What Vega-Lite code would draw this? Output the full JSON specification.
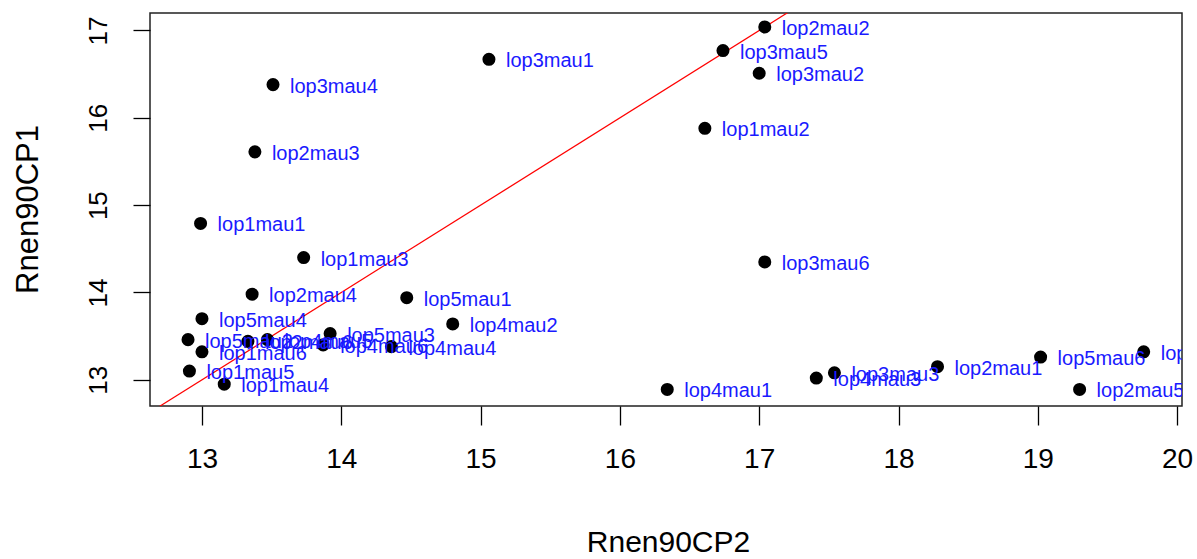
{
  "$schema": "https://vega.github.io/schema/vega-lite/v6.json",
  "width": 1032,
  "height": 393,
  "autosize": {"type": "none"},
  "padding": {"left": 150, "top": 13, "right": 15, "bottom": 153},
  "background": "white",
  "config": {
    "view": {"stroke": "#222222", "strokeWidth": 1.5},
    "axis": {"grid": false, "domain": false, "tickColor": "black", "tickWidth": 1.3, "labelColor": "black", "titleColor": "black", "titleFontWeight": "normal"}
  },
  "datasets": {
    "pts": [
      {"CP2": 17.04, "CP1": 17.04, "name": "lop2mau2"},
      {"CP2": 16.74, "CP1": 16.77, "name": "lop3mau5"},
      {"CP2": 17.00, "CP1": 16.51, "name": "lop3mau2"},
      {"CP2": 15.06, "CP1": 16.67, "name": "lop3mau1"},
      {"CP2": 13.51, "CP1": 16.38, "name": "lop3mau4"},
      {"CP2": 13.38, "CP1": 15.61, "name": "lop2mau3"},
      {"CP2": 16.61, "CP1": 15.88, "name": "lop1mau2"},
      {"CP2": 12.99, "CP1": 14.79, "name": "lop1mau1"},
      {"CP2": 13.73, "CP1": 14.40, "name": "lop1mau3"},
      {"CP2": 17.04, "CP1": 14.35, "name": "lop3mau6"},
      {"CP2": 13.36, "CP1": 13.98, "name": "lop2mau4"},
      {"CP2": 14.47, "CP1": 13.94, "name": "lop5mau1"},
      {"CP2": 14.80, "CP1": 13.64, "name": "lop4mau2"},
      {"CP2": 13.00, "CP1": 13.70, "name": "lop5mau4"},
      {"CP2": 12.90, "CP1": 13.46, "name": "lop5mau2"},
      {"CP2": 13.00, "CP1": 13.32, "name": "lop1mau6"},
      {"CP2": 12.91, "CP1": 13.10, "name": "lop1mau5"},
      {"CP2": 13.16, "CP1": 12.95, "name": "lop1mau4"},
      {"CP2": 13.33, "CP1": 13.44, "name": "lop2mau6"},
      {"CP2": 13.47, "CP1": 13.46, "name": "lop4mau5"},
      {"CP2": 13.92, "CP1": 13.53, "name": "lop5mau3"},
      {"CP2": 13.87, "CP1": 13.40, "name": "lop4mau6"},
      {"CP2": 14.36, "CP1": 13.38, "name": "lop4mau4"},
      {"CP2": 16.34, "CP1": 12.89, "name": "lop4mau1"},
      {"CP2": 17.41, "CP1": 13.02, "name": "lop4mau3"},
      {"CP2": 17.54, "CP1": 13.08, "name": "lop3mau3"},
      {"CP2": 18.28, "CP1": 13.15, "name": "lop2mau1"},
      {"CP2": 19.02, "CP1": 13.26, "name": "lop5mau6"},
      {"CP2": 19.76, "CP1": 13.32, "name": "lop5mau5"},
      {"CP2": 19.30, "CP1": 12.89, "name": "lop2mau5"}
    ],
    "ref": [
      {"CP2": 12.5, "CP1": 12.5},
      {"CP2": 17.5, "CP1": 17.5}
    ]
  },
  "layer": [
    {
      "data": {"name": "ref"},
      "mark": {"type": "line", "color": "red", "strokeWidth": 1.2, "clip": true},
      "encoding": {
        "x": {"field": "CP2", "type": "quantitative", "scale": {"domain": [12.627, 20.035], "nice": false, "zero": false}},
        "y": {"field": "CP1", "type": "quantitative", "scale": {"domain": [12.70, 17.20], "nice": false, "zero": false}}
      }
    },
    {
      "data": {"name": "pts"},
      "mark": {"type": "point", "filled": true, "color": "black", "opacity": 1, "size": 170, "clip": true},
      "encoding": {
        "x": {"field": "CP2", "type": "quantitative", "scale": {"domain": [12.627, 20.035], "nice": false, "zero": false},
          "axis": {"title": "Rnen90CP2", "values": [13, 14, 15, 16, 17, 18, 19, 20], "format": "d", "tickSize": 19, "labelFont": "Liberation Sans", "labelFontSize": 28, "labelPadding": 20, "labelFlush": false, "labelOverlap": false, "titleFont": "Liberation Sans", "titleFontSize": 30, "titleX": 518, "titleY": 136, "titleBaseline": "middle"}},
        "y": {"field": "CP1", "type": "quantitative", "scale": {"domain": [12.70, 17.20], "nice": false, "zero": false},
          "axis": {"title": "Rnen90CP1", "values": [13, 14, 15, 16, 17], "format": "d", "tickSize": 17, "labelFont": "Liberation Sans", "labelFontSize": 26, "labelAngle": -90, "labelAlign": "center", "labelBaseline": "bottom", "labelPadding": 22, "labelFlush": false, "labelOverlap": false, "titleFont": "Liberation Sans", "titleFontSize": 31, "titleX": -122, "titleY": 196, "titleBaseline": "middle"}}
      }
    },
    {
      "data": {"name": "pts"},
      "mark": {"type": "text", "color": "#1a1aff", "font": "Liberation Sans", "fontSize": 20, "align": "left", "baseline": "middle", "dx": 17, "dy": 2, "clip": true},
      "encoding": {
        "x": {"field": "CP2", "type": "quantitative", "scale": {"domain": [12.627, 20.035], "nice": false, "zero": false}},
        "y": {"field": "CP1", "type": "quantitative", "scale": {"domain": [12.70, 17.20], "nice": false, "zero": false}},
        "text": {"field": "name"}
      }
    }
  ]
}
